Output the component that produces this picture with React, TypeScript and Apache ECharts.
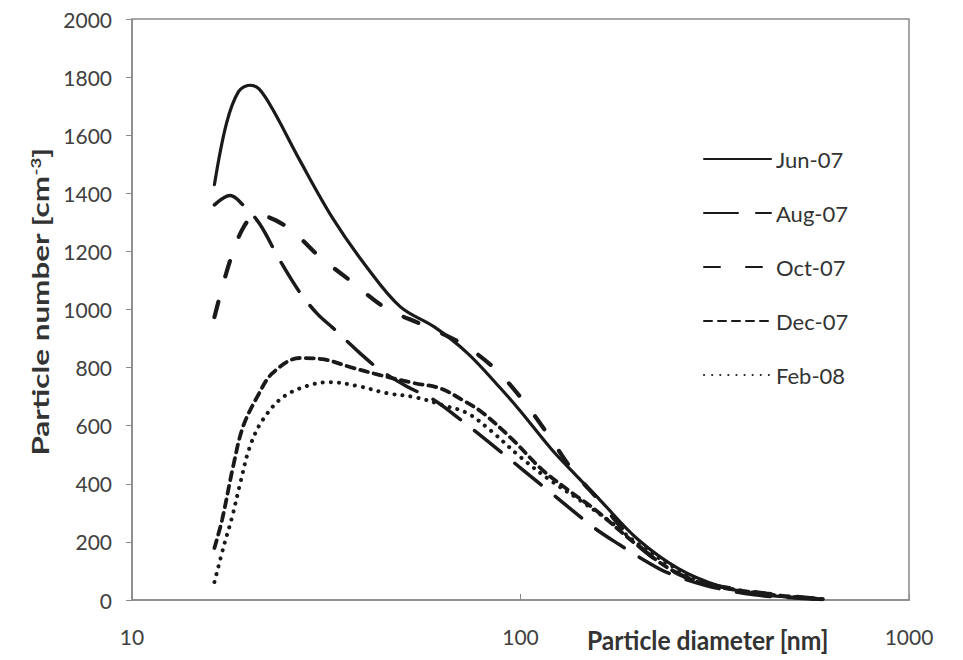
import React, { useEffect, useRef } from "react";
import * as echarts from "echarts";

const seriesNames = ["Jun-07", "Aug-07", "Oct-07", "Dec-07", "Feb-08"];

const jun07: [number, number][] = [
  [16.3, 1430], [17.5, 1640], [18.8, 1750], [20.1, 1772], [21.2, 1760], [23, 1690],
  [27, 1515], [33, 1310], [40, 1150], [49, 1010], [60, 940], [73, 850], [88, 735],
  [100, 650], [120, 520], [140, 425], [160, 345], [200, 210],
  [255, 108], [325, 48], [410, 20], [520, 8], [600, 3],
];
const aug07: [number, number][] = [
  [16.3, 1360], [17.9, 1392], [19.3, 1360], [21.3, 1295], [24, 1170], [27, 1060],
  [30, 985], [33, 935], [38.6, 850], [43.5, 792], [51, 735], [60, 688], [69, 628],
  [83.5, 540], [101, 450], [119, 372], [135, 312], [156, 245], [180, 190], [212, 131],
  [240, 93], [300, 50], [400, 18], [520, 6], [600, 2],
];
const oct07: [number, number][] = [
  [16.3, 974], [17.9, 1170], [19.5, 1290], [21, 1325], [25, 1285], [30.5, 1180],
  [36.4, 1100], [45, 1005], [56, 947], [70, 885], [85, 802], [100, 698], [117, 575],
  [136, 447], [160, 340], [195, 205], [240, 110], [290, 62], [430, 22], [600, 3],
];
const dec07: [number, number][] = [
  [16.3, 179], [17.05, 275], [18.2, 458], [19.3, 596], [21, 699], [23, 781], [27, 833],
  [31, 829], [36.4, 802], [43.5, 774], [53, 747], [62, 729], [71, 688], [80, 644],
  [95.6, 551], [114, 447], [136, 368], [156, 310], [195, 200], [240, 110], [290, 60],
  [430, 20], [600, 3],
];
const feb08: [number, number][] = [
  [16.3, 62], [17.2, 182], [18.1, 286], [19, 403], [20.1, 527], [21.7, 620], [24.5, 699],
  [28.7, 740], [32.3, 750], [38, 737], [45.3, 712], [54, 697], [63, 671], [73, 643],
  [83.5, 585], [100, 492], [119, 413], [142, 344], [170, 270], [200, 195], [250, 110],
  [300, 58], [430, 20], [600, 3],
];

const seriesData = [jun07, aug07, oct07, dec07, feb08];
const dashTypes: any[] = ["solid", [34, 18], [16, 26], [8, 6], [0.1, 8]];
const lineWidths = [3.2, 3.5, 4.2, 3.8, 4];

export default function App() {
  const ref = useRef<HTMLDivElement>(null);
  useEffect(() => {
    document.body.style.margin = "0";
    const chart = echarts.init(ref.current!, null, { renderer: "svg" });
    const labelFont = { fontFamily: "Lato", fontSize: 21, color: "#404040" };
    chart.setOption({
      animation: false,
      backgroundColor: "#ffffff",
      grid: {
        left: 132,
        top: 19,
        right: 54,
        bottom: 60,
        show: true,
        borderColor: "#8a8a8a",
        borderWidth: 1.5,
        containLabel: false,
      },
      legend: {
        orient: "vertical",
        left: 703,
        top: 148,
        padding: 0,
        itemWidth: 67,
        itemHeight: 14,
        itemGap: 32,
        data: seriesNames,
        itemStyle: { opacity: 0 },
        textStyle: { fontFamily: "Lato", fontSize: 22, color: "#333333" },
      },
      xAxis: {
        type: "log",
        logBase: 10,
        min: 10,
        max: 1000,
        axisLine: { show: true, lineStyle: { color: "#8a8a8a", width: 1.5 } },
        axisTick: { show: true, inside: true, length: 6, lineStyle: { color: "#8a8a8a" } },
        minorTick: { show: false },
        splitLine: { show: false },
        axisLabel: { ...labelFont, margin: 26, formatter: (v: number) => String(v) },
      },
      yAxis: {
        type: "value",
        min: 0,
        max: 2000,
        interval: 200,
        axisLine: { show: true, lineStyle: { color: "#8a8a8a", width: 1.5 } },
        axisTick: { show: true, inside: false, length: 6, lineStyle: { color: "#8a8a8a" } },
        splitLine: { show: false },
        axisLabel: { ...labelFont, margin: 20, formatter: (v: number) => String(v) },
      },
      graphic: [
        {
          type: "text",
          x: 587,
          y: 626,
          scaleX: 1.12,
          scaleY: 1.25,
          style: {
            text: "Particle diameter [nm]",
            fontFamily: "Lato",
            fontWeight: "bold",
            fontSize: 22,
            fill: "#333333",
            textVerticalAlign: "top",
          },
        },
        {
          type: "text",
          x: 40,
          y: 302,
          rotation: Math.PI / 2,
          scaleX: 1.43,
          scaleY: 1.05,
          style: {
            text: "{b|Particle number [cm}{s|-3}{b|]}",
            align: "center",
            verticalAlign: "middle",
            rich: {
              b: { fontFamily: "Lato", fontWeight: "bold", fontSize: 22, fill: "#333333" },
              s: {
                fontFamily: "Lato",
                fontWeight: "bold",
                fontSize: 13,
                fill: "#333333",
                verticalAlign: "top",
                padding: [0, 0, 8, 0],
              },
            },
          },
        },
      ],
      series: seriesNames.map((name, i) => ({
        name,
        type: "line",
        data: seriesData[i],
        showSymbol: false,
        symbol: "none",
        smooth: 0.35,
        lineStyle: {
          color: "#1a1a1a",
          width: lineWidths[i],
          type: dashTypes[i],
          cap: "round",
        },
        itemStyle: { color: "#1a1a1a" },
      })),
    });
    return () => chart.dispose();
  }, []);
  return <div ref={ref} style={{ width: 963, height: 660 }} />;
}
